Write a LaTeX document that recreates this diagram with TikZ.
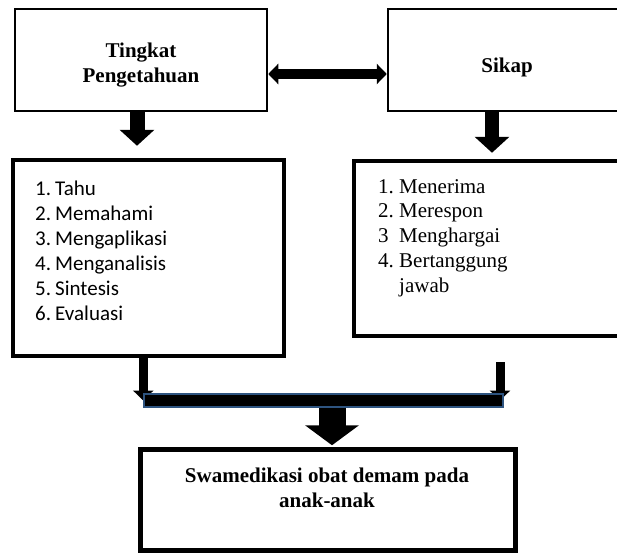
\documentclass[tikz,border=0pt]{standalone}
\usepackage{fontspec}
\setmainfont{Liberation Serif}
\newfontfamily\calibri{Carlito}
\usetikzlibrary{arrows.meta,backgrounds}
\definecolor{barblue}{RGB}{46,84,128}

\begin{document}
\begin{tikzpicture}[x=1pt, y=-1pt,
    topbox/.style={draw, line width=2.5pt},
    listbox/.style={draw, line width=4.5pt},
    bigtext/.style={font=\fontsize{21}{25}\selectfont\bfseries, align=center, inner sep=0pt},
    listtext/.style={font=\fontsize{21}{24.8}\selectfont, align=left, inner sep=0pt, anchor=north west},
    downarrow/.style={line width=15pt, -{Triangle[length=16pt, width=34pt]}}]
                \useasboundingbox (0,0) rectangle (617,552);
                \node(tingkat) at(141, 60) [topbox, minimum width=252pt, minimum height=102pt] {};
                \node(sikap) at(507, 60) [topbox, minimum width=238pt, minimum height=102pt] {};
                \node(tingkat_t) at(141, 43) [bigtext, anchor=north] {Tingkat\\Pengetahuan};
                \node(sikap_t) at(507, 72) [bigtext, anchor=base] {Sikap};
                \node(tahu) at(148.25, 258) [listbox, minimum width=271pt, minimum height=196pt] {};
                \node(menerima) at(490, 248.5) [listbox, minimum width=272pt, minimum height=175pt] {};
                \node(tahu_t) at(35, 181) [listtext, font=\calibri\fontsize{21}{25}\selectfont] {%
                    \makebox[20pt][l]{1.}Tahu\\
                    \makebox[20pt][l]{2.}Memahami\\
                    \makebox[20pt][l]{3.}Mengaplikasi\\
                    \makebox[20pt][l]{4.}Menganalisis\\
                    \makebox[20pt][l]{5.}Sintesis\\
                    \makebox[20pt][l]{6.}Evaluasi};
                \node(menerima_t) at(378, 179) [listtext] {%
                    \makebox[21pt][l]{1.}Menerima\\
                    \makebox[21pt][l]{2.}Merespon\\
                    \makebox[21pt][l]{3}Menghargai\\
                    \makebox[21pt][l]{4.}Bertanggung\\
                    \hspace*{21pt}jawab};
                \node(gabung) at(323.5, 400.5) [draw=barblue, fill=black, line width=1.5pt, minimum width=359pt, minimum height=13pt, inner sep=0pt] {};
                \node(swamedikasi) at(328, 500) [listbox, minimum width=375pt, minimum height=101pt] {};
                \node(swamedikasi_t) at(327, 468) [bigtext, anchor=north] {Swamedikasi obat demam pada\\anak-anak};
                \draw[line width=10pt, {Triangle[length=10pt, width=20pt]}-{Triangle[length=10pt, width=20pt]}]
                    ([yshift=-14pt]tingkat.east) -- ([yshift=-14pt]tingkat.east -| sikap.west);
                \draw[downarrow]
                    ([xshift=-4pt]tingkat.south) -- ([xshift=-4pt]tingkat.south |- tahu.north) [shorten >=12pt];
                \draw[downarrow, line width=14pt]
                    ([xshift=-15pt]sikap.south) -- ([xshift=-15pt]sikap.south |- menerima.north) [shorten >=6pt];
                \begin{scope}[on background layer]
                \draw[line width=9pt, -{Triangle[length=10pt, width=20pt]}]
                    ([xshift=-5pt]tahu.south) -- ([xshift=-5pt]tahu.south |- gabung.center);
                \draw[line width=9pt, -{Triangle[length=10pt, width=20pt]}, shorten <=24pt]
                    ([xshift=10pt]menerima.south) -- ([xshift=10pt]menerima.south |- gabung.center);
                \end{scope}
                \draw[line width=27pt, -{Triangle[length=20pt, width=53pt]}]
                    ([xshift=8.5pt]gabung.south) -- ([xshift=8.5pt]gabung.south |- swamedikasi.north) [shorten >=2pt];
            \end{tikzpicture}
\end{document}
